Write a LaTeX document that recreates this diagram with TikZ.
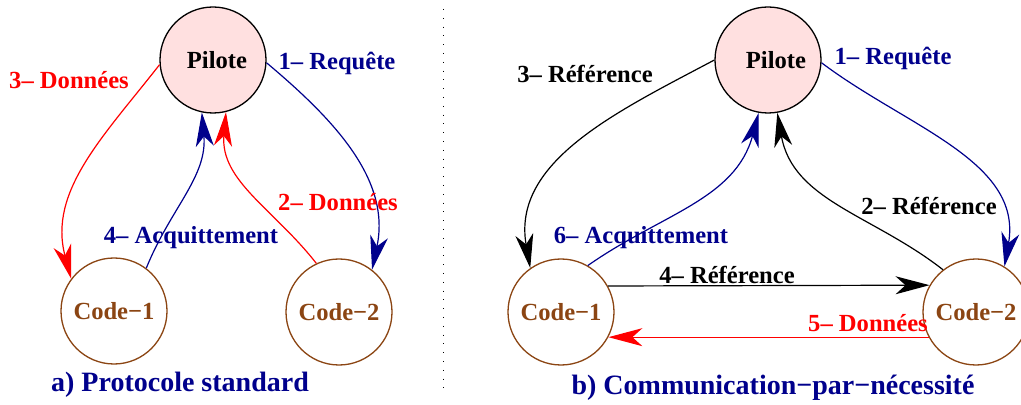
\documentclass[tikz,border=0pt]{standalone}
\usepackage{fontspec}
\setmainfont{Liberation Serif}
\usetikzlibrary{arrows.meta}

\definecolor{navy}{RGB}{0,0,140}
\definecolor{codebrown}{RGB}{139,69,19}
\definecolor{pilotpink}{RGB}{255,224,224}

\tikzset{
	bigfont/.style={font=\fontsize{12.3}{14}\selectfont\bfseries},
	pilot/.style={circle,draw=black,fill=pilotpink,line width=0.65pt,minimum size=53pt,inner sep=0pt,bigfont},
	code/.style={circle,draw=codebrown,line width=0.65pt,minimum size=53pt,inner sep=0pt,text=codebrown,bigfont},
	msg/.style={line width=0.6pt,-{Stealth[length=17pt,width=9pt,inset=5pt]}},
	caption/.style={text=navy,font=\fontsize{14}{16}\selectfont\bfseries},
}

\begin{document}
\begin{tikzpicture}[x=0.5pt,y=-0.5pt]
		\useasboundingbox (0,0) rectangle (1021,405);
		
		% a) protocole standard
		\node[pilot] (pilA) at (213,60) {\hspace*{4pt}Pilote};
		\node[code] (codA1) at (114,311) {Code−1};
		\node[code] (codA2) at (339,312) {Code−2};
		
		\draw[msg,navy] (pilA.-3) to[out=-40,in=78] (codA2.52);
		\draw[msg,red] (codA2.115) to[out=128,in=-95] (pilA.-76);
		\draw[msg,red] (pilA.185) to[out=232,in=105] (codA1.143);
		\draw[msg,navy] (codA1.53) to[out=68,in=-85] (pilA.-102);
		
		\node[bigfont,text=navy] (reqA) at (337,63) {1– Requête};
		\node[bigfont,text=red] (donA2) at (338,202) {2– Données};
		\node[bigfont,text=red] (donA3) at (69,80) {3– Données};
		\node[bigfont,text=navy] (acqA) at (191,238) {4– Acquittement};
		\node[caption] (capA) at (180,385) {a) Protocole standard};
		
		\draw[line width=0.5pt,dash pattern=on 0.5pt off 3.9pt] (443,9) -- (443,388);
		
		% b) communication par necessite
		\node[pilot] (pilB) at (768,60) {\hspace*{8pt}Pilote};
		\node[code] (codB1) at (561,312) {Code−1};
		\node[code] (codB2) at (976,312) {Code−2};
		
		\draw[msg,navy] (pilB.-3) to[out=-37,in=80] (codB2.58);
		\draw[msg] (codB2.128) to[out=142,in=-80] (pilB.-80);
		\draw[msg] (pilB.180) to[out=208,in=100] (codB1.125);
		\draw[msg] (codB1.29.4) -- (codB2.150.6);
		\draw[msg,red] (codB2.208) -- (codB1.-28);
		\draw[msg,navy] (codB1.60) to[out=35,in=-105] (pilB.-100);
		
		\node[bigfont,text=navy] (reqB) at (893,58) {1– Requête};
		\node[bigfont] (refB2) at (929,206) {2– Référence};
		\node[bigfont] (refB3) at (585,74) {3– Référence};
		\node[bigfont] (refB4) at (727,275) {4– Référence};
		\node[bigfont,text=red] (donB5) at (868,323) {5– Données};
		\node[bigfont,text=navy] (acqB) at (641,238) {6– Acquittement};
		\node[caption] (capB) at (773,388) {b) Communication−par−nécessité};
\end{tikzpicture}
\end{document}
